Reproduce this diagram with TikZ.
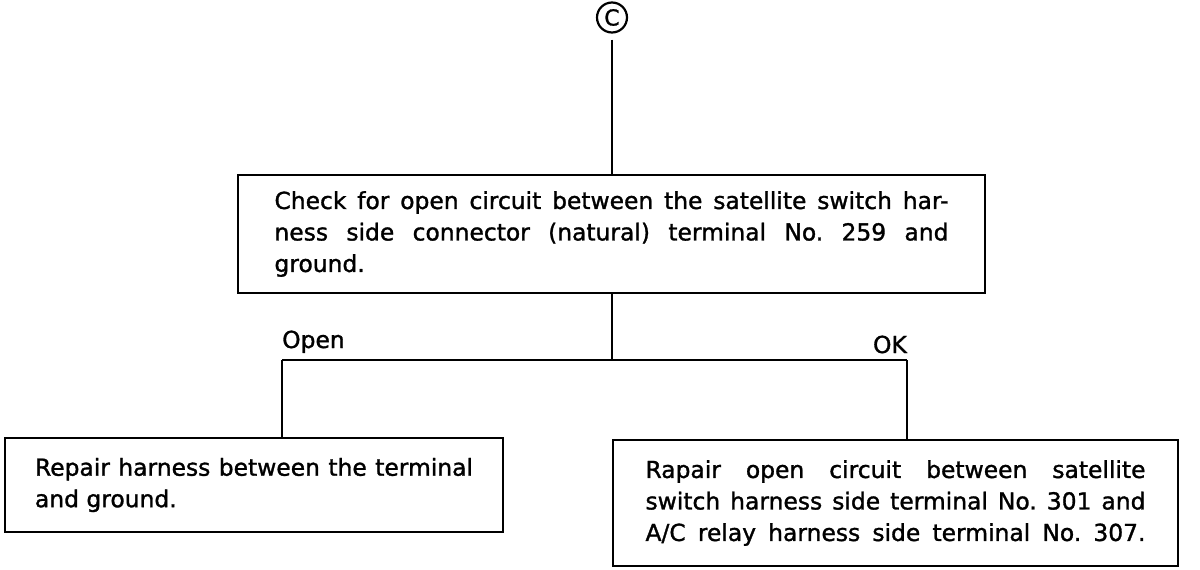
\documentclass[tikz,border=0pt]{standalone}
\usepackage{fontspec}
\setmainfont{DejaVu Sans}[FakeBold=1.3]
\usetikzlibrary{positioning}
\tikzstyle{stepbox} = [rectangle, draw=black, line width=2.4pt, align=justify, inner sep=0pt, font=\fontsize{23.4}{31.5}\selectfont]
\tikzstyle{branchtext} = [inner sep=0pt, font=\fontsize{23.4}{28}\selectfont]
\tikzstyle{wire} = [line width=2.4pt]

\begin{document}
\begin{tikzpicture}[x=1pt, y=-1pt]
\useasboundingbox (0,0) rectangle (1200,570);
\node (mark) [circle, draw, line width=2.2pt, minimum size=30pt, inner sep=0pt, font=\fontsize{22}{22}\selectfont] at (612,17.5) {C};
\node (check) [stepbox, minimum width=747pt, minimum height=118pt, text width=674pt] at (611.5,234) {Check for open circuit between the satellite switch har-\linebreak ness side connector (natural) terminal No.~259 and\linebreak ground.};
\node (repair) [stepbox, minimum width=498pt, minimum height=94pt, text width=438pt] at (254,485) {Repair harness between the terminal\linebreak and ground.};
\node (rapair) [stepbox, minimum width=565pt, minimum height=126pt, text width=500pt] at (895.5,503) {Rapair open circuit between satellite\linebreak switch harness side terminal No.~301 and\linebreak A/C relay harness side terminal No.~307.\parfillskip=0pt\par};

\coordinate (split) at (612,360);
\coordinate (openc) at (282,360);
\coordinate (okc) at (907,360);
\node (open) [branchtext, anchor=base west] at (282,348) {Open};
\node (ok) [branchtext, anchor=base east] at (907,353) {OK};

\draw [wire, shorten <=6pt] (mark.south) -- (mark.south |- check.north);
\draw [wire] (split |- check.south) -- (split);
\draw [wire] (openc) -- (okc);
\draw [wire] (openc) -- (openc |- repair.north);
\draw [wire] (okc) -- (okc |- rapair.north);
\end{tikzpicture}
\end{document}
